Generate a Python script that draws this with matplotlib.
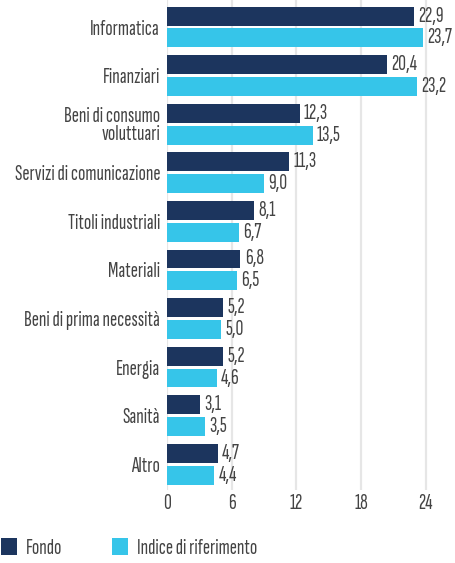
import numpy as np
import matplotlib.pyplot as plt
from matplotlib import font_manager

names = {f.name for f in font_manager.fontManager.ttflist}
fam = ['Sofia Sans Extra Condensed', 'DejaVu Sans'] if 'Sofia Sans Extra Condensed' in names else ['DejaVu Sans']
plt.rcParams['font.family'] = fam
plt.rcParams['font.weight'] = 300

categorie = ["Informatica", "Finanziari", "Beni di consumo\nvoluttuari", "Servizi di comunicazione",
             "Titoli industriali", "Materiali", "Beni di prima necessità", "Energia", "Sanità", "Altro"]
fondo = [22.9, 20.4, 12.3, 11.3, 8.1, 6.8, 5.2, 5.2, 3.1, 4.7]
indice = [23.7, 23.2, 13.5, 9.0, 6.7, 6.5, 5.0, 4.6, 3.5, 4.4]
xticks = [0, 6, 12, 18, 24]

c_fondo = '#1c355e'
c_indice = '#36c5e9'
txt = '#444444'
fs = 15.5

fig = plt.figure(figsize=(4.56, 5.63), dpi=100)
ax = fig.add_axes([167/456, 1 - 490/563, 1 - 167/456, 490/563])

y = np.arange(len(categorie))
h = 0.39
off = 0.225
b1 = ax.barh(y - off, fondo, height=h, color=c_fondo, zorder=3)
b2 = ax.barh(y + off, indice, height=h, color=c_indice, zorder=3)

for bars, vals in ((b1, fondo), (b2, indice)):
    for rect, v in zip(bars, vals):
        ax.text(rect.get_width() + 0.4, rect.get_y() + rect.get_height() / 2,
                f"{v:.1f}".replace('.', ','), va='center', ha='left',
                fontsize=fs, color=txt)

ax.set_xlim(0, 26.8)
ax.set_ylim(9.53, -0.556)
ax.set_yticks(y)
ax.set_yticklabels(categorie, fontsize=fs, color=txt, linespacing=0.95)
ax.set_xticks(xticks)
ax.set_xticklabels([str(t) for t in xticks], fontsize=fs, color=txt)
ax.tick_params(length=0, pad=3)
ax.tick_params(axis='y', pad=5)
for s in ax.spines.values():
    s.set_visible(False)
ax.grid(axis='x', color='#e6e6e6', linewidth=1.6, zorder=0)
ax.set_axisbelow(True)

fig.legend([b1, b2], ["Fondo", "Indice di riferimento"], loc='lower left',
           bbox_to_anchor=(-0.016, -0.006), ncol=2, frameon=False, fontsize=fs,
           handlelength=0.75, handleheight=0.8, handletextpad=0.4,
           columnspacing=2.3, labelcolor=txt, borderaxespad=0.0)

fig.savefig('out.png', dpi=100)
